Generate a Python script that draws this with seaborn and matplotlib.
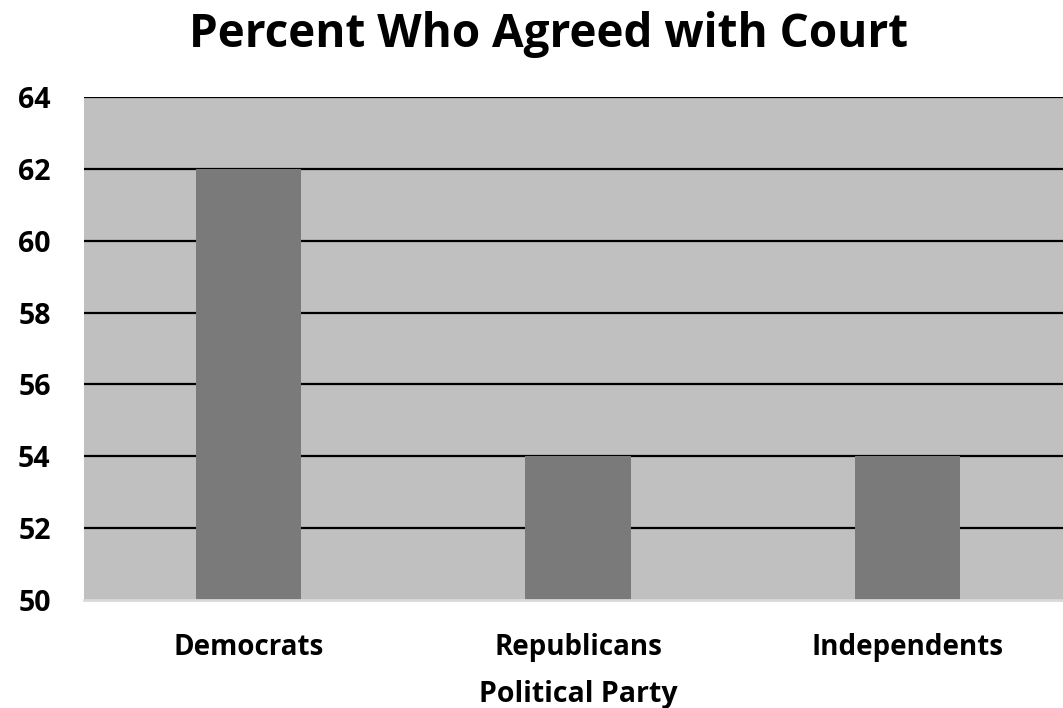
import matplotlib
matplotlib.use("Agg")
import matplotlib.pyplot as plt
import seaborn as sns
import pandas as pd

parties = ["Democrats", "Republicans", "Independents"]
percent_agreed = [62, 54, 54]
y_ticks = [50, 52, 54, 56, 58, 60, 62, 64]

df = pd.DataFrame({"Party": parties, "Percent": percent_agreed})

sns.set_theme(style="white")
plt.rcParams["font.family"] = ["Open Sans", "DejaVu Sans"]
plt.rcParams["text.color"] = "black"

fig = plt.figure(figsize=(10.63, 7.08), dpi=100)
ax = fig.add_axes([84 / 1063, 1 - 600 / 708, 988 / 1063, 503 / 708])
ax.set_facecolor("#C0C0C0")

ax.set_ylim(50, 64)
ax.set_yticks(y_ticks)
for t in y_ticks[1:]:
    ax.axhline(t, color="black", linewidth=1.6, zorder=1)

sns.barplot(data=df, x="Party", y="Percent", color="#7A7A7A", saturation=1,
            width=0.32, linewidth=0, ax=ax, zorder=2)

for s in ["top", "left", "right"]:
    ax.spines[s].set_visible(False)
ax.spines["bottom"].set_color("#D9D9D9")
ax.spines["bottom"].set_linewidth(2)

ax.tick_params(axis="both", length=0, labelcolor="black")
ax.tick_params(axis="y", pad=24, labelsize=20.5)
ax.tick_params(axis="x", pad=24, labelsize=20)
for lab in ax.get_xticklabels() + ax.get_yticklabels():
    lab.set_fontweight("bold")

ax.set_ylabel("")
ax.set_xlabel("Political Party", fontsize=20.5, fontweight="bold", labelpad=13, color="black")
fig.suptitle("Percent Who Agreed with Court", fontsize=33, fontweight="bold",
             x=0.516, y=0.985, color="black")

fig.savefig("out.png", dpi=100)
